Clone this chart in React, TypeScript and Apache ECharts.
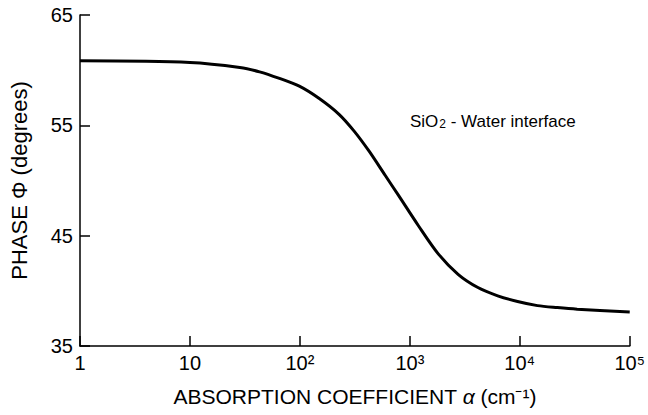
import React, { useEffect, useRef } from "react";
import * as echarts from "echarts";

const alpha = [1, 10, 28.4, 43, 65.2, 98.8, 150, 227, 310, 423, 598, 789, 1197, 1813, 2746, 4160, 6300, 9550, 14480, 21950, 33260, 100000];
const phase = [60.85, 60.7, 60.25, 59.85, 59.25, 58.55, 57.43, 56.0, 54.5, 52.7, 50.45, 48.65, 45.9, 43.35, 41.5, 40.3, 39.55, 39.03, 38.66, 38.48, 38.34, 38.09];
const yTicks = [35, 45, 55, 65];
const xTicks = [1, 10, 100, 1000, 10000, 100000];
const xTickLabels = ["1", "10", "10²", "10³", "10⁴", "10⁵"];
const annotationParts = ["SiO", "2", " - Water interface"];

const FONT = '"Liberation Sans", Arial, Helvetica, sans-serif';

export default function App() {
  const ref = useRef<HTMLDivElement>(null);
  useEffect(() => {
    if (!ref.current) return;
    const chart = echarts.init(ref.current, undefined, { renderer: "svg" });
    const data = alpha.map((a, i) => [a, phase[i]]);
    chart.setOption({
      animation: false,
      backgroundColor: "#fff",
      grid: { left: 79, right: 15, top: 15, bottom: 69 },
      xAxis: {
        type: "log",
        logBase: 10,
        min: 1,
        max: 100000,
        name: "{a|ABSORPTION COEFFICIENT }{i|α}{a| (cm⁻¹)}",
        nameLocation: "middle",
        nameGap: 40,
        nameTextStyle: {
          rich: {
            a: { fontFamily: FONT, fontSize: 21, color: "#000" },
            i: { fontFamily: FONT, fontSize: 21, fontStyle: "italic", color: "#000" },
          },
        },
        axisLine: { show: true, lineStyle: { color: "#000", width: 1.5 } },
        axisTick: { show: true, inside: true, length: 10, lineStyle: { color: "#000", width: 1.5 }, customValues: xTicks },
        axisLabel: {
          customValues: xTicks,
          margin: 7,
          fontFamily: FONT,
          fontSize: 20,
          color: "#000",
          formatter: (v: number) => {
            const idx = xTicks.findIndex((t) => Math.abs(Math.log10(t) - Math.log10(v)) < 1e-6);
            return idx >= 0 ? xTickLabels[idx] : "";
          },
        },
        splitLine: { show: false },
        minorTick: { show: false },
      },
      yAxis: {
        type: "value",
        min: 35,
        max: 65,
        name: "PHASE Φ (degrees)",
        nameLocation: "middle",
        nameGap: 50,
        nameTextStyle: { fontFamily: FONT, fontSize: 22, color: "#000" },
        axisLine: { show: true, lineStyle: { color: "#000", width: 1.5 } },
        axisTick: { show: true, inside: true, length: 10, lineStyle: { color: "#000", width: 1.5 }, customValues: yTicks },
        axisLabel: { customValues: yTicks, margin: 7, fontFamily: FONT, fontSize: 20, color: "#000" },
        splitLine: { show: false },
      },
      graphic: [
        {
          type: "text",
          left: 410,
          top: 113,
          style: {
            text: `{a|${annotationParts[0]}}{s|${annotationParts[1]}}{a|${annotationParts[2]}}`,
            rich: {
              a: { fontFamily: FONT, fontSize: 17, fill: "#000", lineHeight: 22, verticalAlign: "bottom" },
              s: { fontFamily: FONT, fontSize: 12, fill: "#000", lineHeight: 10, verticalAlign: "bottom", padding: [0, 0, 0, 1] },
            },
          },
        },
      ],
      series: [
        {
          type: "line",
          data,
          smooth: 0.3,
          showSymbol: false,
          lineStyle: { color: "#000", width: 3 },
        },
      ],
    });
    return () => chart.dispose();
  }, []);
  return <div ref={ref} style={{ position: "absolute", left: 0, top: 0, width: 648, height: 415 }} />;
}
